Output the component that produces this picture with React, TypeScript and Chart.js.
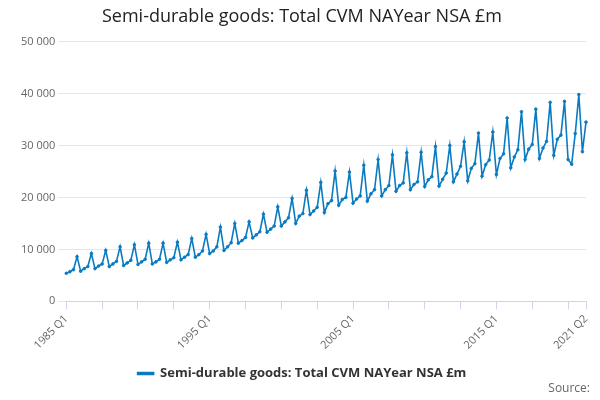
import { useEffect, useRef } from 'react';
import Chart from 'chart.js/auto';

const years = Array.from({ length: 37 }, (_, i) => 1985 + i);
const labels: string[] = [];
years.forEach((y) => ['Q1', 'Q2', 'Q3', 'Q4'].forEach((q) => labels.push(`${y} ${q}`)));
labels.splice(146);

const values = [
  5400, 5700, 6100, 8600, 5800, 6300, 6700, 9200, 6300, 6800, 7200, 9800,
  6700, 7200, 7700, 10500, 6900, 7400, 7900, 10900, 7100, 7600, 8100, 11200,
  7200, 7600, 8100, 11200, 7500, 8000, 8400, 11400, 8000, 8500, 9000, 12100,
  8500, 9000, 9700, 12900, 9200, 9700, 10500, 14300, 9800, 10500, 11300, 15000,
  11200, 11700, 12300, 15300, 12200, 12800, 13400, 16800, 13300, 13900, 14500, 18200,
  14500, 15300, 16100, 19800, 15000, 16400, 16900, 21400, 16700, 17400, 18100, 22900,
  17100, 18800, 19400, 25100, 18500, 19600, 20000, 24900, 18900, 19700, 20300, 26200,
  19300, 20700, 21500, 27300, 20300, 21500, 22300, 28200, 21200, 22300, 22800, 28600,
  21500, 22500, 23000, 28700, 22100, 23400, 24000, 29800, 22200, 23500, 24700, 30000,
  23000, 24500, 26000, 30700, 23200, 25600, 26500, 32400, 24100, 26300, 27200, 32600,
  24400, 27500, 28400, 35300, 25700, 27800, 29200, 36500, 27300, 29300, 30200, 37000,
  27500, 29500, 30800, 38300, 28100, 31200, 32000, 38500, 27300, 26400, 32300, 39800,
  28800, 34500,
];

const shownLabels = ['1985 Q1', '1995 Q1', '2005 Q1', '2015 Q1', '2021 Q2'];
const seriesName = 'Semi-durable goods: Total CVM NAYear NSA £m';

export default function App() {
  const canvasRef = useRef<HTMLCanvasElement>(null);

  useEffect(() => {
    if (!canvasRef.current) return;
    const chart = new Chart(canvasRef.current, {
      type: 'line',
      data: {
        labels,
        datasets: [
          {
            label: seriesName,
            data: values,
            borderColor: '#0a7bc1',
            backgroundColor: '#0a7bc1',
            borderWidth: 1.6,
            pointRadius: 1.3,
            pointBorderWidth: 1,
            pointHoverRadius: 3,
            tension: 0,
          },
        ],
      },
      options: {
        animation: false,
        responsive: false,
        layout: { padding: { left: 18, right: 14, top: 0, bottom: 0 } },
        plugins: {
          title: {
            display: true,
            text: seriesName,
            color: '#222',
            font: { family: 'Open Sans', size: 18, weight: 'normal' },
            padding: { top: 6, bottom: 14 },
          },
          legend: {
            position: 'bottom',
            labels: {
              color: '#333',
              font: { family: 'Open Sans', size: 13, weight: 'bold' },
              boxWidth: 16,
              boxHeight: 2,
              padding: 12,
            },
          },
          tooltip: { enabled: false },
        },
        scales: {
          x: {
            grid: {
              drawOnChartArea: false,
              color: '#ccd6eb',
              tickLength: 8,
            },
            border: { color: '#ccd6eb' },
            ticks: {
              autoSkip: false,
              maxRotation: 45,
              minRotation: 45,
              color: '#666',
              font: { family: 'Open Sans', size: 11 },
              callback: (_v, i) => {
                const l = labels[i];
                if (shownLabels.includes(l)) return l;
                if (i % 10 === 0) return '';
                return null;
              },
            },
          },
          y: {
            min: 0,
            max: 50000,
            ticks: {
              stepSize: 10000,
              color: '#666',
              font: { family: 'Open Sans', size: 11 },
              callback: (v) => String(v).replace(/\B(?=(\d{3})+(?!\d))/g, ' '),
            },
            grid: { color: '#e6e6e6' },
            border: { display: false },
          },
        },
      },
    });
    return () => chart.destroy();
  }, []);

  return (
    <div style={{ position: 'relative', width: 600, height: 400, margin: -8 }}>
      <canvas ref={canvasRef} width={600} height={390} />
      <div
        style={{
          position: 'absolute',
          right: 10,
          bottom: 4,
          fontFamily: 'Open Sans',
          fontSize: 12,
          color: '#666',
        }}
      >
        Source:
      </div>
    </div>
  );
}
